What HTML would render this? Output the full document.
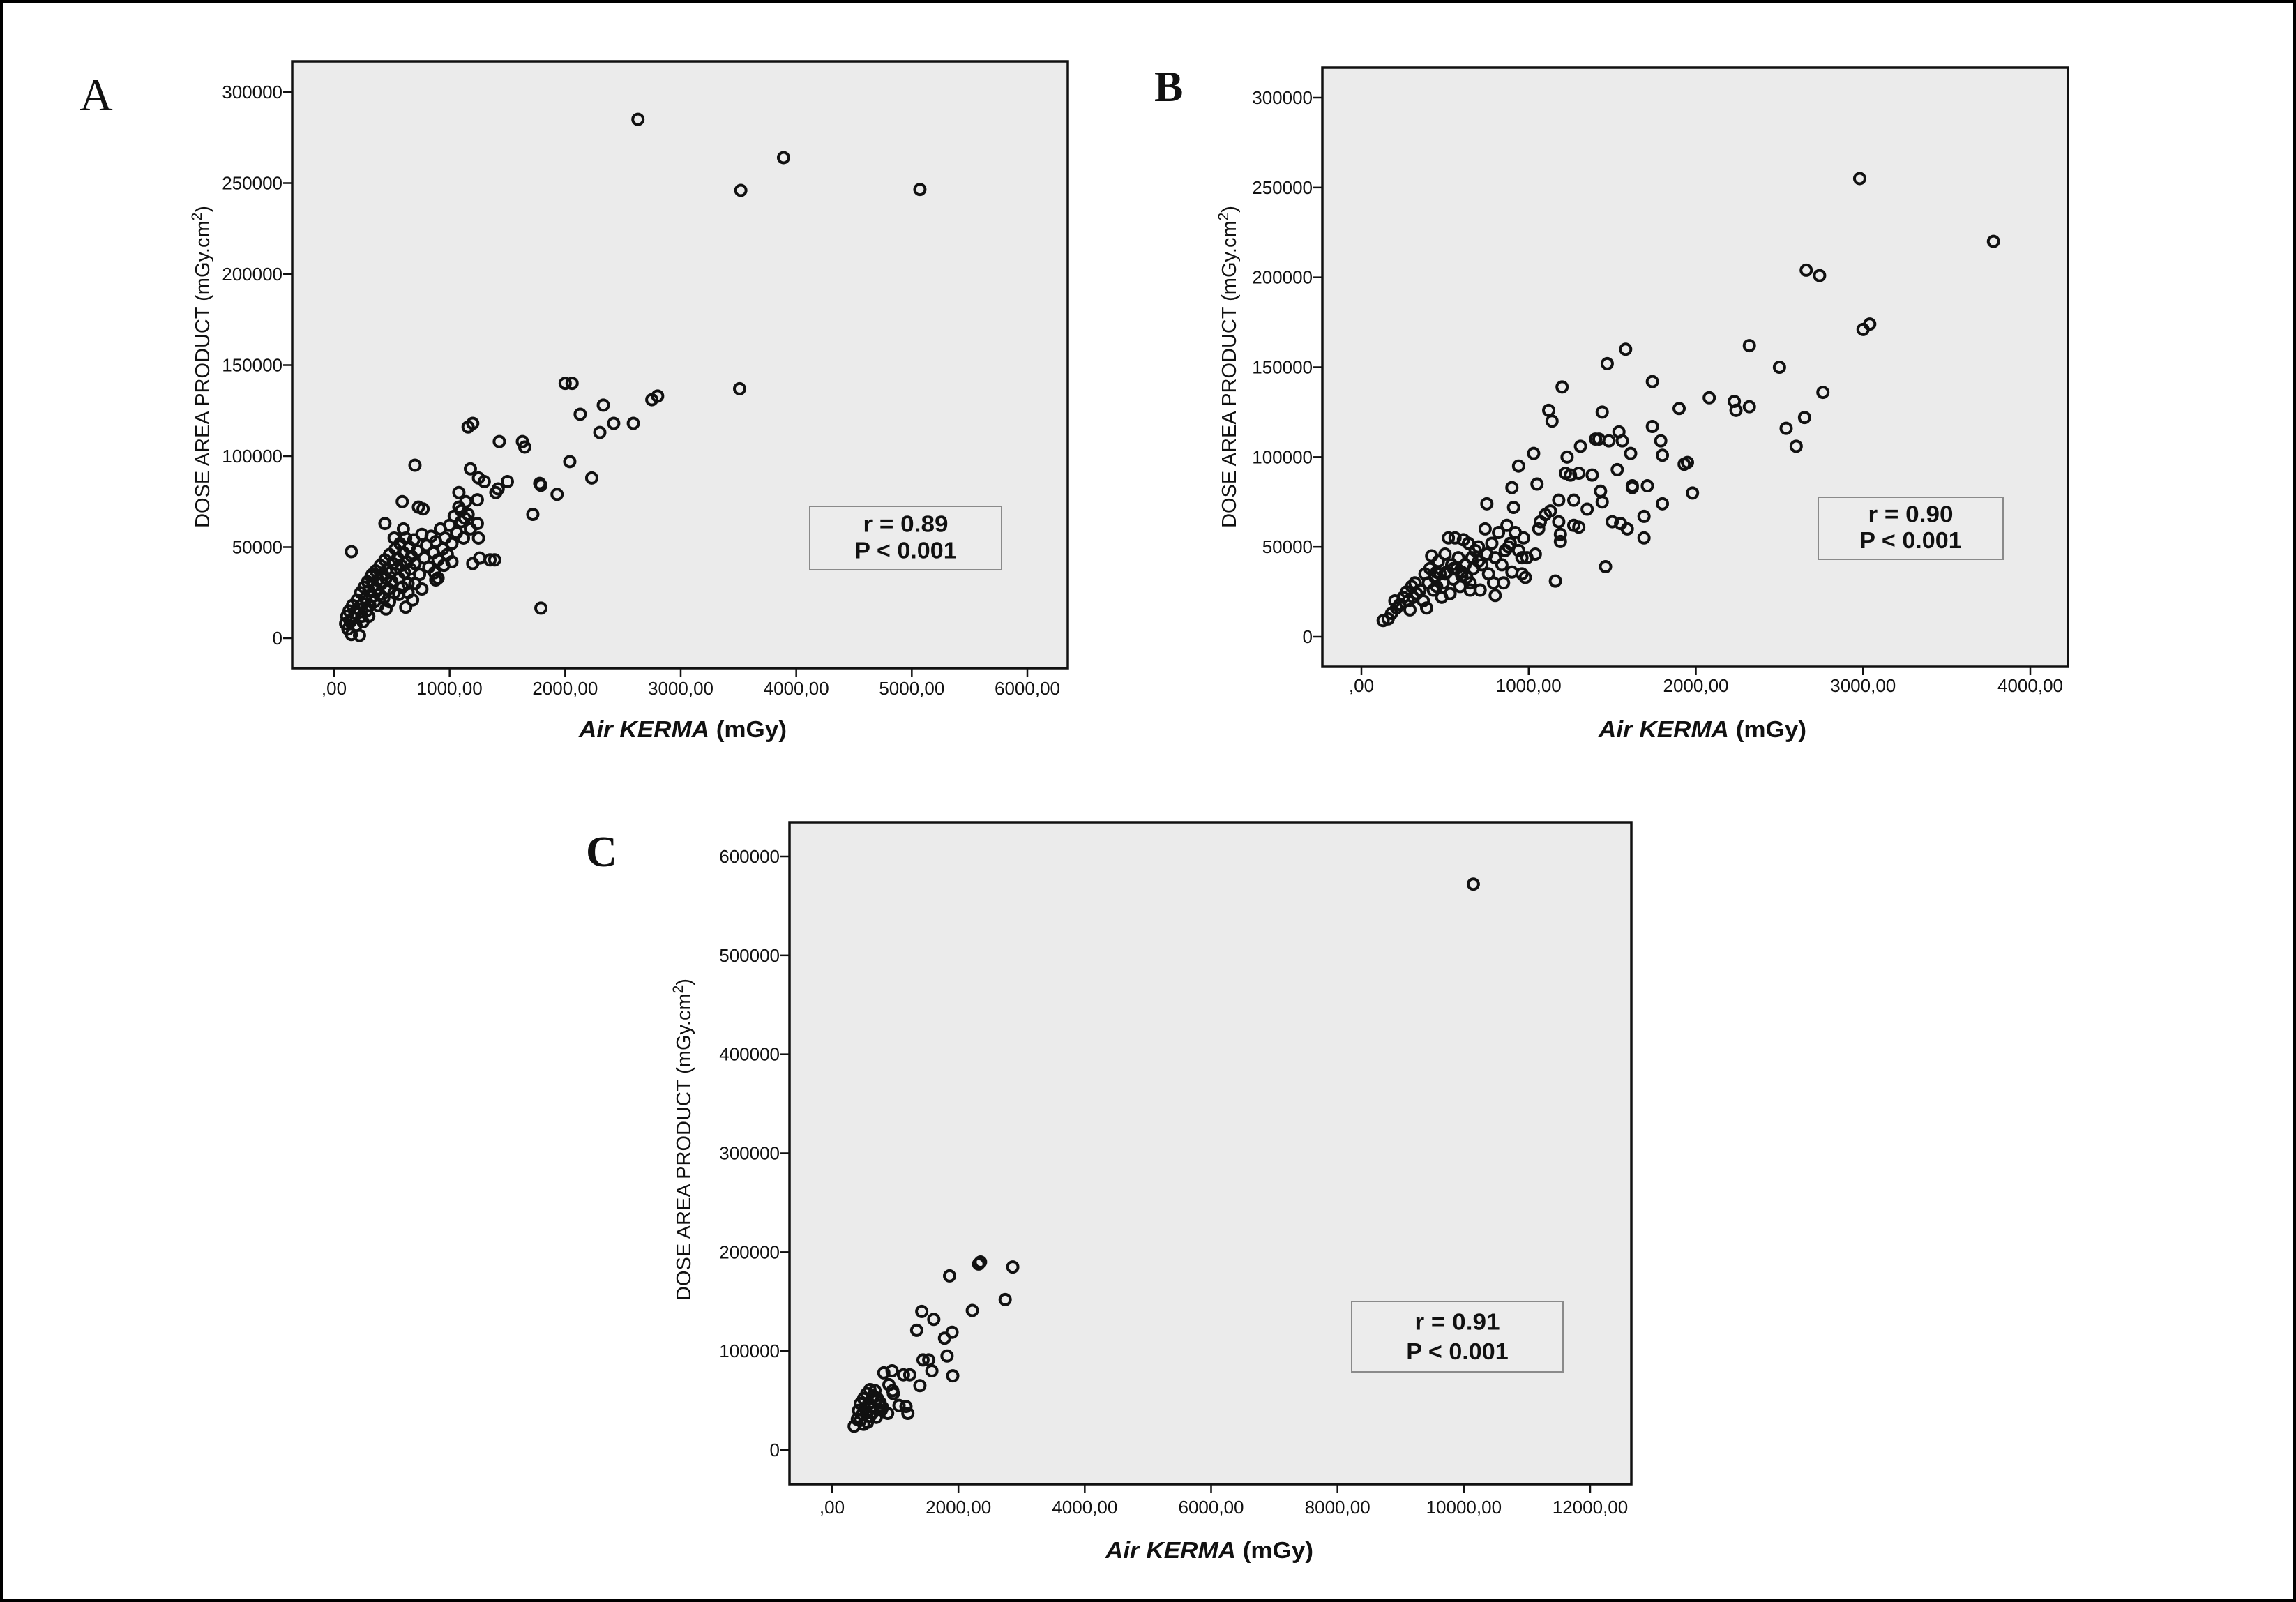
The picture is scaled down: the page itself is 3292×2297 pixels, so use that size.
<!DOCTYPE html>
<html><head><meta charset="utf-8"><style>
html,body{margin:0;padding:0;background:#fff;}
svg{display:block;}
text{font-family:"Liberation Sans",sans-serif;}
</style></head><body>
<svg id="fig" width="3292" height="2297" viewBox="0 0 3292 2297" xmlns="http://www.w3.org/2000/svg">
<rect x="2" y="2" width="3288" height="2293" fill="#fff" stroke="#000" stroke-width="4"/>
</svg>
<script>
// ---- Chart A data ----
const aXTicks=[0,1000,2000,3000,4000,5000,6000];
const aXTickLabels=[",00","1000,00","2000,00","3000,00","4000,00","5000,00","6000,00"];
const aYTicks=[0,50000,100000,150000,200000,250000,300000];
const aYTickLabels=["0","50000","100000","150000","200000","250000","300000"];
const aKerma=[2630,3890,3520,5070,3510,2000,2060,2130,2330,2300,2420,2590,2750,2800,2230,2040,1930,1790,1780,1720,1790,1630,1650,1430,1160,1200,1500,1400,1420,700,1180,1300,1250,1240,1240,1250,1260,1350,1390,590,730,770,440,150,1080,1100,1130,1180,1200,900,880,760,620,
100,110,120,130,140,150,160,170,180,190,200,210,220,230,240,250,260,270,280,290,300,310,320,330,340,350,360,370,380,390,400,410,420,430,440,450,460,470,480,490,500,510,520,530,540,550,560,570,580,590,600,610,620,630,640,650,660,670,680,690,700,720,740,760,780,800,820,840,860,880,900,920,940,960,980,1000,1020,1040,1060,1080,1100,1120,1140,1160,1020,950,870,700,640,300,330,450,520,600,560,380,480,250];
const aDap=[285000,264000,246000,246500,137000,140000,140000,123000,128000,113000,118000,118000,131000,133000,88000,97000,79000,84000,85000,68000,16500,108000,105000,108000,116000,118000,86000,80000,82000,95000,93000,86000,88000,76000,63000,55000,44000,43000,43000,75000,72000,71000,63000,47500,80000,70000,66000,60000,41000,33000,32000,27000,17000,
8000,12000,5000,15000,9000,2000,18000,11000,14000,7000,21000,16000,1500,25000,12000,19000,28000,22000,15000,31000,26000,18000,34000,23000,29000,20000,37000,27000,32000,24000,40000,30000,35000,22000,43000,33000,38000,27000,46000,36000,31000,41000,25000,49000,38000,44000,33000,52000,40000,28000,47000,36000,55000,42000,30000,50000,38000,45000,21000,54000,41000,48000,35000,57000,44000,51000,39000,56000,47000,53000,43000,60000,49000,55000,46000,62000,52000,67000,58000,72000,64000,55000,75000,68000,42000,40000,36000,30000,25000,12000,35000,16000,55000,60000,24000,18000,20000,9000];
// ---- Chart B data ----
const bXTicks=[0,1000,2000,3000,4000];
const bXTickLabels=[",00","1000,00","2000,00","3000,00","4000,00"];
const bYTicks=[0,50000,100000,150000,200000,250000,300000];
const bYTickLabels=["0","50000","100000","150000","200000","250000","300000"];
const bKerma=[2980,3780,2660,2740,3000,3040,2320,1580,1470,2500,1740,1200,2760,2080,2230,2240,2320,1900,1120,1440,1140,2650,2540,2600,1740,1420,1400,1480,1540,1560,1790,1610,1800,1030,1310,1230,1930,1950,940,1220,1250,1300,1380,1530,1620,1620,1710,1800,1980,900,1050,1430,1270,1180,1350,1440,750,910,1690,1690,1500,1550,1590,1460,1160,1270,1300,1180,1100,1130,1060,1070,1190,1190,960,980,990,1040,880,800,790,
130,160,180,200,210,230,250,270,280,290,300,310,320,330,350,370,380,390,400,410,420,430,440,450,460,470,480,490,500,510,520,530,540,550,560,570,580,590,600,610,620,630,640,650,660,670,680,700,710,720,740,750,760,780,800,820,840,860,870,890,900,920,940,960,970,500,550,600,450,650,700,850];
const bDap=[255000,220000,204000,201000,171000,174000,162000,160000,152000,150000,142000,139000,136000,133000,131000,126000,128000,127000,126000,125000,120000,122000,116000,106000,117000,110000,110000,109000,114000,109000,109000,102000,101000,102000,106000,100000,96000,97000,95000,91000,90000,91000,90000,93000,84000,83000,84000,74000,80000,83000,85000,81000,76000,76000,71000,75000,74000,72000,67000,55000,64000,63000,60000,39000,31000,62000,61000,64000,68000,70000,60000,64000,57000,53000,35000,33000,44000,46000,50000,23000,30000,
9000,10000,13000,20000,16000,18000,22000,25000,20000,15000,28000,22000,30000,24000,26000,20000,35000,16000,30000,38000,45000,26000,33000,28000,42000,35000,22000,30000,46000,36000,55000,24000,40000,32000,55000,38000,44000,28000,36000,54000,40000,33000,52000,26000,44000,38000,48000,42000,26000,40000,60000,46000,35000,52000,44000,58000,40000,48000,62000,52000,36000,58000,48000,44000,55000,35000,38000,34000,36000,30000,50000,30000];
// ---- Chart C data ----
const cXTicks=[0,2000,4000,6000,8000,10000,12000];
const cXTickLabels=[",00","2000,00","4000,00","6000,00","8000,00","10000,00","12000,00"];
const cYTicks=[0,100000,200000,300000,400000,500000,600000];
const cYTickLabels=["0","100000","200000","300000","400000","500000","600000"];
const cKerma=[10150,2350,2320,2860,1860,2740,2220,1420,1610,1340,1900,1780,1820,1440,1530,1580,1910,820,950,1130,1230,1390,900,960,970,1060,1170,1200,880,350,400,420,450,500,550,600,650,700,750,780,600,560,650,700,480,520,580,620,680,720,760,540,450,800,630,500];
const cDap=[572000,190000,188000,185000,176000,152000,141000,140000,132000,121000,119000,113000,95000,91000,91000,80000,75000,78000,80000,76000,76000,65000,66000,60000,57000,45000,44000,37000,37000,24000,31000,40000,47000,52000,57000,61000,55000,50000,45000,40000,34000,28000,38000,33000,36000,42000,47000,44000,60000,52000,48000,38000,30000,43000,52000,26000];

const NS="http://www.w3.org/2000/svg";
const svg=document.getElementById('fig');
function mk(tag,attrs,parent){const e=document.createElementNS(NS,tag);for(const k in attrs)e.setAttribute(k,attrs[k]);(parent||svg).appendChild(e);return e;}

function chart(cfg){
  const g=mk('g',{});
  
  
  const sx=v=>cfg.x0+(v-cfg.xTicks[0])/(cfg.xTicks[cfg.xTicks.length-1]-cfg.xTicks[0])*(cfg.xEnd-cfg.x0);
  const sy=v=>cfg.y0+(v-cfg.yTicks[0])/(cfg.yTicks[cfg.yTicks.length-1]-cfg.yTicks[0])*(cfg.yEnd-cfg.y0);
  const F=cfg.frame;
  const bg=mk('rect',{x:F[0],y:F[1],width:F[2]-F[0],height:F[3]-F[1],fill:'#ebebeb',stroke:'#111','stroke-width':3.5},g);
  
  
  cfg.xTicks.forEach((v,i)=>{
    const x=sx(v);
    const t=mk('line',{x1:x,x2:x,y1:F[3],y2:F[3]+12,stroke:'#111','stroke-width':2.5},g);
    
    
    const l=mk('text',{x:x,y:F[3]+cfg.xLabOff,'text-anchor':'middle','font-size':26,fill:'#111'},g);
    
    
    l.textContent=cfg.xLabels[i];
  });
  cfg.yTicks.forEach((v,i)=>{
    const y=sy(v);
    const t=mk('line',{x1:F[0]-13,x2:F[0],y1:y,y2:y,stroke:'#111','stroke-width':2.5},g);
    
    
    const l=mk('text',{x:F[0]-14,y:y+9,'text-anchor':'end','font-size':26,fill:'#111'},g);
    
    
    l.textContent=cfg.yLabels[i];
  });
  cfg.xs.forEach((v,i)=>{
    const c=mk('circle',{cx:sx(v),cy:sy(cfg.ys[i]),r:7.5,fill:'none',stroke:'#111','stroke-width':4},g);
    
    
  });
  const B=cfg.box;
  const br=mk('rect',{x:B[0],y:B[1],width:B[2]-B[0],height:B[3]-B[1],fill:'#ececec',stroke:'#8a8a8a','stroke-width':2},g);
  
  
  const cx=(B[0]+B[2])/2, h=B[3]-B[1];
  const t1=mk('text',{x:cx,y:B[1]+h*0.40,'text-anchor':'middle','font-size':33,'font-weight':'bold',fill:'#111',textLength:cfg.rLen,lengthAdjust:'spacingAndGlyphs'},g);
  
  
  t1.textContent=cfg.rText;
  const t2=mk('text',{x:cx,y:B[1]+h*0.82,'text-anchor':'middle','font-size':33,'font-weight':'bold',fill:'#111',textLength:cfg.rLen*1.2,lengthAdjust:'spacingAndGlyphs'},g);
  
  
  t2.textContent='P < 0.001';
  const xt=mk('text',{x:cfg.xTitle[0],y:cfg.xTitle[1],'text-anchor':'middle','font-size':33,'font-weight':'bold',fill:'#111',textLength:298,lengthAdjust:'spacingAndGlyphs'},g);
  
  
  xt.innerHTML='<tspan font-style="italic">Air KERMA</tspan> (mGy)';
  const yt=mk('text',{x:0,y:0,'text-anchor':'middle','font-size':29,fill:'#111',transform:'translate('+cfg.yTitle[0]+','+cfg.yTitle[1]+') rotate(-90)',textLength:462,lengthAdjust:'spacingAndGlyphs'},g);
  
  
  yt.innerHTML='DOSE AREA PRODUCT (mGy.cm<tspan font-size="21" dy="-11">2</tspan><tspan dy="11">)</tspan>';
  const pl=mk('text',{x:cfg.letter[0],y:cfg.letter[1],style:'font-family:"Liberation Serif",serif;font-size:'+cfg.letter[2]+'px;font-weight:'+cfg.letter[3],fill:'#111'},g);
  
  
  pl.textContent=cfg.id.toUpperCase();
}

chart({id:'a',frame:[419,88,1531,958],x0:479,xEnd:1473,y0:915,yEnd:132,
  xTicks:aXTicks,xLabels:aXTickLabels,yTicks:aYTicks,yLabels:aYTickLabels,xs:aKerma,ys:aDap,
  box:[1161,726,1436,817],rText:'r = 0.89',rLen:122,xLabOff:38,xTitle:[979,1057],yTitle:[300,526],letter:[114,158,66,'normal']});
chart({id:'b',frame:[1896,97,2965,956],x0:1952,xEnd:2911,y0:913,yEnd:140,
  xTicks:bXTicks,xLabels:bXTickLabels,yTicks:bYTicks,yLabels:bYTickLabels,xs:bKerma,ys:bDap,
  box:[2607,713,2872,802],rText:'r = 0.90',rLen:122,xLabOff:36,xTitle:[2441,1057],yTitle:[1772,526],letter:[1655,145,62,'bold']});
chart({id:'c',frame:[1132,1179,2339,2128],x0:1193,xEnd:2280,y0:2079,yEnd:1228,
  xTicks:cXTicks,xLabels:cXTickLabels,yTicks:cYTicks,yLabels:cYTickLabels,xs:cKerma,ys:cDap,
  box:[1938,1866,2241,1967],rText:'r = 0.91',rLen:122,xLabOff:42,xTitle:[1734,2234],yTitle:[990,1634],letter:[840,1242,62,'bold']});
</script>
</body></html>
